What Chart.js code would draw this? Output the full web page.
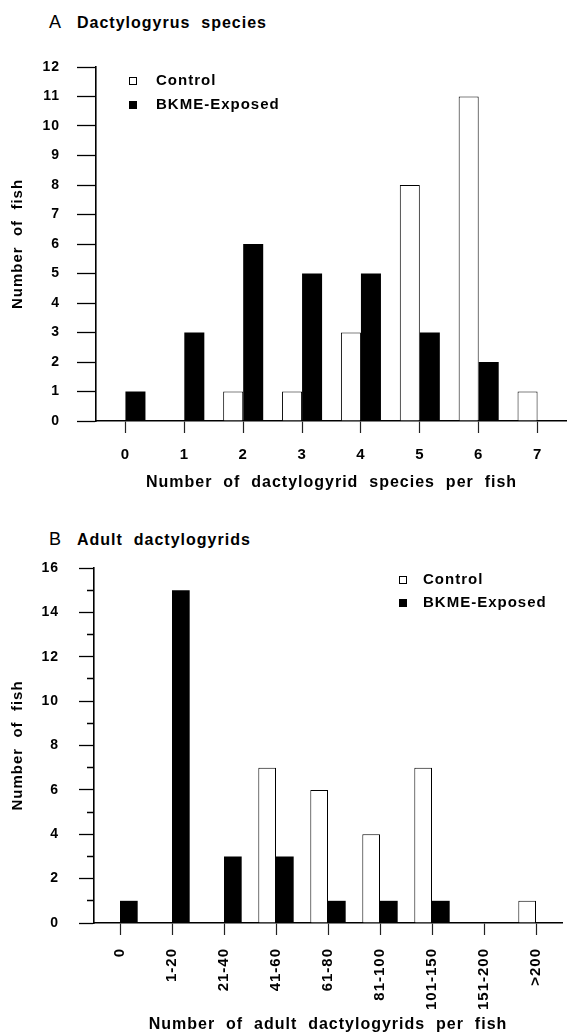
<!DOCTYPE html>
<html>
<head>
<meta charset="utf-8">
<script src="https://cdn.jsdelivr.net/npm/chart.js@4.4.0/dist/chart.umd.min.js"></script>
<style>
  body { margin: 0; background: #fff; width: 567px; height: 1034px; position: relative; overflow: hidden;
         font-family: "Liberation Sans", Arial, sans-serif; color: #000; }
  canvas { position: absolute; left: 0; }
  .title { position: absolute; left: 49px; font-size: 16px; font-weight: bold; letter-spacing: 1px; white-space: pre; line-height: 18px; }
  .title span { display: inline-block; width: 28px; font-weight: normal; font-size: 18px; letter-spacing: 0; }
</style>
</head>
<body>
<div class="title" style="top:13px"><span>A</span>Dactylogyrus  species</div>
<canvas id="chartA" width="567" height="500" style="top:0"></canvas>
<div class="title" style="top:530px"><span>B</span>Adult  dactylogyrids</div>
<canvas id="chartB" width="567" height="534" style="top:500px"></canvas>
<script>
// data
const seriesNames = ['Control', 'BKME-Exposed'];

const speciesLabels = ['0', '1', '2', '3', '4', '5', '6', '7'];
const speciesControl = [0, 0, 1, 1, 3, 8, 11, 1];
const speciesExposed = [1, 3, 6, 5, 5, 3, 2, 0];

const adultLabels = ['0', '1-20', '21-40', '41-60', '61-80', '81-100', '101-150', '151-200', '>200'];
const adultControl = [0, 0, 0, 7, 6, 4, 7, 0, 1];
const adultExposed = [1, 15, 3, 3, 1, 1, 1, 0, 0];

const FONT = '"Liberation Sans", Arial, sans-serif';

// wider tracking, like the printed figure
const spacing = {
  id: 'spacing',
  beforeUpdate(chart) { chart.ctx.letterSpacing = '1px'; },
  beforeDraw(chart) { chart.ctx.letterSpacing = '1px'; }
};

// small square legend inside the plot
const boxLegend = {
  id: 'boxLegend',
  afterDraw(chart, args, opts) {
    const ctx = chart.ctx, area = chart.chartArea;
    ctx.save();
    ctx.font = 'bold 15px ' + FONT;
    ctx.textBaseline = 'middle';
    chart.data.datasets.forEach((ds, i) => {
      const x = area.left + opts.x;
      const y = area.top + opts.y + i * opts.gap;
      ctx.fillStyle = ds.backgroundColor;
      ctx.fillRect(x, y - 4, 8, 8);
      ctx.strokeStyle = '#000';
      ctx.lineWidth = 1;
      ctx.strokeRect(x + 0.5, y - 3.5, 7, 7);
      ctx.fillStyle = '#000';
      ctx.fillText(ds.label, x + opts.textGap, y);
    });
    ctx.restore();
  }
};

function makeChart(id, labels, control, exposed, cfg) {
  return new Chart(document.getElementById(id), {
    type: 'bar',
    data: {
      labels: labels,
      datasets: [
        { label: seriesNames[0], data: control, backgroundColor: '#fff', borderColor: '#000', borderWidth: 1 },
        { label: seriesNames[1], data: exposed, backgroundColor: '#000', borderColor: '#000', borderWidth: 0 }
      ]
    },
    options: {
      responsive: false,
      animation: false,
      layout: { padding: { top: cfg.top, right: 0, bottom: 0, left: 0 } },
      datasets: { bar: { categoryPercentage: 0.68, barPercentage: 1 } },
      plugins: {
        legend: { display: false },
        tooltip: { enabled: false },
        boxLegend: cfg.legend
      },
      scales: {
        x: {
          offset: true,
          grid: { offset: false, drawOnChartArea: false, tickLength: 12, tickColor: '#222', tickWidth: 1.2 },
          border: { display: true, color: '#000', width: 1.6 },
          ticks: {
            color: '#000', autoSkip: false, padding: cfg.xPad,
            minRotation: cfg.rot, maxRotation: cfg.rot,
            font: { family: FONT, size: 15, weight: 'bold' }
          },
          title: {
            display: true, text: cfg.xTitle, color: '#000',
            font: { family: FONT, size: 16, weight: 'bold' },
            padding: { top: 0, bottom: cfg.xTitlePad }
          },
          afterFit: s => { s.height = cfg.xHeight; }
        },
        y: {
          min: 0, max: cfg.max,
          grid: {
            drawOnChartArea: false, tickLength: cfg.tickLen, tickColor: '#000', tickWidth: 1.3,
            tickBorderDash: c => (c.tick && c.tick.value % cfg.major !== 0) ? [0, cfg.tickLen - cfg.minorLen, cfg.minorLen, 80] : []
          },
          border: { display: true, color: '#000', width: 1.6 },
          ticks: {
            stepSize: cfg.minor, color: '#000', padding: cfg.yPad,
            callback: v => v % cfg.major === 0 ? v : '',
            font: { family: FONT, size: 14, weight: 'bold' }
          },
          title: {
            display: true, text: 'Number  of  fish', color: '#000',
            font: { family: FONT, size: 15, weight: 'bold' },
            padding: { top: 9, bottom: 0 }
          },
          afterFit: s => { s.width = cfg.yWidth; }
        }
      }
    },
    plugins: [spacing, boxLegend]
  });
}

makeChart('chartA', speciesLabels, speciesControl, speciesExposed, {
  top: 67, xHeight: 79, yWidth: 96, max: 12, major: 1, minor: 0.5,
  tickLen: 19, minorLen: 9, yPad: 17, xPad: 13, rot: 0, xTitlePad: 8,
  xTitle: 'Number  of  dactylogyrid  species  per  fish',
  legend: { x: 33, y: 14, gap: 24, textGap: 27 }
});

makeChart('chartB', adultLabels, adultControl, adultExposed, {
  top: 68, xHeight: 111, yWidth: 94, max: 16, major: 2, minor: 1,
  tickLen: 15, minorLen: 7, yPad: 20, xPad: 13, rot: 90, xTitlePad: 0,
  xTitle: 'Number  of  adult  dactylogyrids  per  fish',
  legend: { x: 305, y: 12, gap: 23, textGap: 24 }
});
</script>
</body>
</html>
